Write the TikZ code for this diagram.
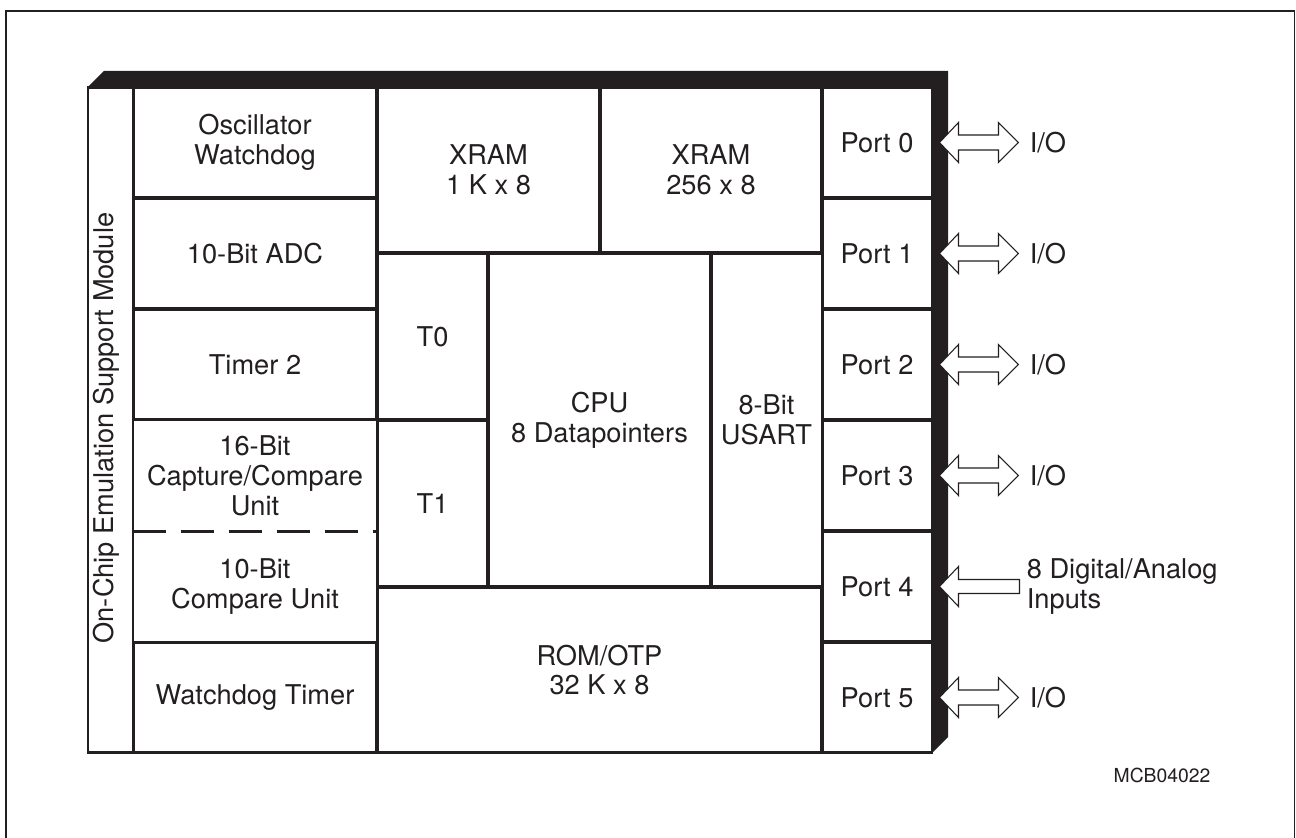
\documentclass[tikz,border=0pt]{standalone}
\usepackage{fontspec}
\setmainfont{TeX Gyre Heros}
\usepackage{tikz}
\usetikzlibrary{calc}
\definecolor{ink}{HTML}{231F20}
\tikzset{txt/.style={inner sep=0pt,align=center,text=ink,font=\fontsize{15.5}{17}\selectfont}}
\tikzset{cell/.style={txt,draw=ink,line width=1.7pt}}
\tikzset{leftcell/.style={cell,minimum width=4.88cm,minimum height=2.22cm}}
\tikzset{portcell/.style={cell,minimum width=2.2cm,minimum height=2.22cm}}
\tikzset{blockarrow/.style={draw=ink,fill=white,line width=0.6pt,line join=miter}}

\begin{document}
\begin{tikzpicture}[x=0.02cm,y=-0.02cm]
    \useasboundingbox (0,0) rectangle (1296,838);
    \draw[ink,line width=1.1pt] (6,838) -- (6,11) -- (1294.5,11) -- (1294.5,838);

    % shadow of the chip
    \fill[ink] (88,87) -- (104,71) -- (948,71) -- (948,737) -- (932,753) -- (932,87) -- cycle;

    \node[cell,minimum width=0.9cm,minimum height=13.32cm] (emu) at (110.5,420) {};
    \node[txt,rotate=90,anchor=base] (emulabel) at (113,428) {On-Chip Emulation Support Module};

    % left column
    \node[leftcell] (osc) at (255,142.5) {Oscillator\\Watchdog};
    \node[leftcell] (adc) at (255,253.5) {10-Bit ADC};
    \node[leftcell] (tim2) at (255,364.5) {Timer 2};
    \node[txt,minimum width=4.88cm,minimum height=2.22cm] (cc16) at (255,475.5) {16-Bit\\Capture/Compare\\Unit};
    \node[txt,minimum width=4.88cm,minimum height=2.22cm] (cmp10) at (255,586.5) {10-Bit\\Compare Unit};
    \node[leftcell] (wdt) at (255,697.5) {Watchdog Timer};
    \draw[ink,line width=1.7pt,dash pattern=on 0.66cm off 0.3cm] (cc16.south west) -- (cc16.south east);

    % core
    \node[cell,minimum width=4.46cm,minimum height=3.32cm] (xram1) at (488.5,170) {XRAM\\1 K x 8};
    \node[cell,minimum width=4.44cm,minimum height=3.32cm] (xram2) at (711,170) {XRAM\\256 x 8};
    \node[cell,minimum width=2.22cm,minimum height=3.34cm] (t0) at (432.5,336.5) {T0};
    \node[cell,minimum width=2.22cm,minimum height=3.34cm] (t1) at (432.5,503.5) {T1};
    \node[cell,minimum width=4.46cm,minimum height=6.68cm] (cpu) at (599.5,420) {CPU\\8 Datapointers};
    \node[cell,minimum width=2.22cm,minimum height=6.68cm] (usart) at (766.5,420) {8-Bit\\USART};
    \node[cell,minimum width=8.9cm,minimum height=3.32cm] (rom) at (599.5,670) {ROM/OTP\\32 K x 8};

    % ports
    \foreach \i in {0,...,5}
        \node[portcell] (p\i) at (877,{142.5+111*\i}) {Port \i};

    \foreach \i in {0,1,2,3,5}{
        \draw[blockarrow] ($(p\i.east)+(6,0)$) -- ++(19,-20) -- ++(0,12.5) -- ++(40,0) -- ++(0,-12.5)
            -- ++(20,20) -- ++(-20,20) -- ++(0,-12.5) -- ++(-40,0) -- ++(0,12.5) -- cycle;
        \node[txt,anchor=west] (io\i) at ($(p\i.east)+(96,0)$) {I/O};
    }
    \draw[blockarrow] ($(p4.east)+(6,0)$) -- ++(19,-20) -- ++(0,13) -- ++(61,0) -- ++(0,14)
        -- ++(-61,0) -- ++(0,13) -- cycle;
    \node[txt,anchor=west,align=left] (in4) at ($(p4.east)+(93,0)$) {8 Digital/Analog\\Inputs};

    \node[txt,font=\fontsize{11}{13}\selectfont] (mcb) at (1162,775) {MCB04022};
\end{tikzpicture}
\end{document}
